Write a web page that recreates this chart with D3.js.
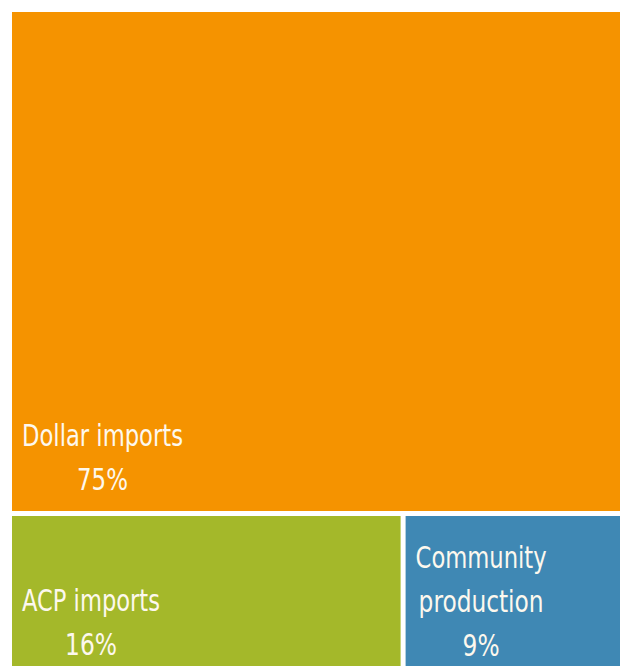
<!DOCTYPE html>
<html><head><meta charset="utf-8">
<script src="https://cdn.jsdelivr.net/npm/d3@7"></script>
<style>
html,body{margin:0;padding:0;background:#fff;}
svg{display:block;}
text{font-family:"DejaVu Sans Condensed","Liberation Sans Narrow","Roboto Condensed",sans-serif;fill:#fdf8ee;}
</style></head>
<body>
<script>
const categories = ["Dollar imports", "ACP imports", "Community production"];
const shares = [75, 16, 9];
const labelLines = [["Dollar imports"], ["ACP imports"], ["Community", "production"]];
const colors = ["#f59300", "#a4b82a", "#3f88b4"];
const firstBaseline = [434, 95, 52];
const targetWidths = [[161, 51], [138, 52], [131, 125, 37]];

const W = 620, H = 666;
const svg = d3.select("body").append("svg").attr("width", W).attr("height", H);

const root = d3.hierarchy({children: categories.map((c, i) => ({name: c, value: shares[i], i}))})
  .sum(d => d.value || 0);
d3.treemap().tile(d3.treemapBinary).size([610, 667]).paddingInner(5)(root);

const g = svg.append("g").attr("transform", "translate(12,12)");
const leaves = root.leaves();
const cell = g.selectAll("g.cell").data(leaves).join("g").attr("class", "cell");
cell.append("rect")
  .attr("x", d => d.x0).attr("y", d => d.y0)
  .attr("width", d => d.x1 - d.x0).attr("height", d => d.y1 - d.y0)
  .attr("fill", d => colors[d.data.i]);

cell.each(function(d) {
  const i = d.data.i;
  const lines = labelLines[i].concat([shares[i] + "%"]);
  const sel = d3.select(this);
  const texts = lines.map((t, k) => sel.append("text")
    .attr("y", d.y0 + firstBaseline[i] + k * 44)
    .attr("font-size", 30)
    .attr("text-anchor", "middle")
    .attr("textLength", targetWidths[i][k])
    .attr("lengthAdjust", "spacingAndGlyphs")
    .text(t));
  const maxW = d3.max(targetWidths[i]);
  texts.forEach(t => t.attr("x", d.x0 + 10 + maxW / 2));
});
</script>
</body></html>
